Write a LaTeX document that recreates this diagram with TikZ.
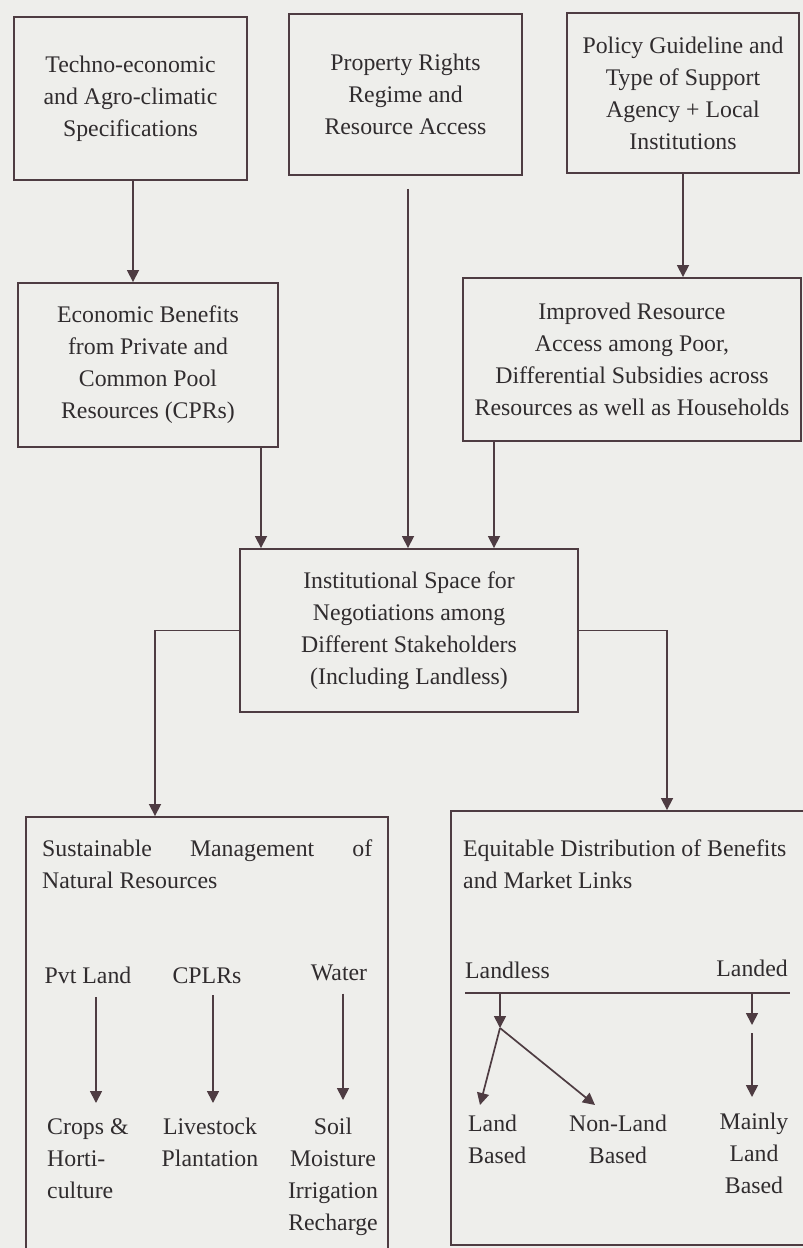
\documentclass[tikz,border=0pt]{standalone}
\usepackage{fontspec}
\setmainfont{Liberation Serif}
\usetikzlibrary{arrows.meta}
\definecolor{bg}{RGB}{238,238,235}
\definecolor{ink}{RGB}{78,60,66}
\definecolor{txt}{RGB}{48,44,46}
\newcommand\dgfont{\fontsize{23.8}{32}\selectfont}
\begin{document}
\begin{tikzpicture}[x=1pt,y=-1pt,
  box/.style={draw=ink, line width=1.9pt, rectangle, inner sep=0pt, align=center, font=\dgfont, text=txt},
  arr/.style={draw=ink, line width=1.7pt, -{Triangle[width=12pt,length=12pt]}},
  lbl/.style={inner sep=0pt, font=\dgfont, text=txt},
  plain/.style={draw=ink, line width=1.7pt}]
\useasboundingbox (0,0) rectangle (803,1248);
\fill[bg] (0,0) rectangle (803,1248);
\clip (0,0) rectangle (803,1248);

% top row
\node[box, minimum width=233pt, minimum height=163pt] (b1) at (130.5,98.5) {Techno-economic\\and Agro-climatic\\Specifications};
\node[box, minimum width=233pt, minimum height=161pt] (b2) at (405.5,94.5) {Property Rights\\Regime and\\Resource Access};
\node[box, minimum width=232pt, minimum height=160pt] (b3) at (683,93) {Policy Guideline and\\Type of Support\\Agency + Local\\Institutions};

% second row
\node[box, minimum width=260pt, minimum height=164pt] (b4) at (148,365) {Economic Benefits\\from Private and\\Common Pool\\Resources (CPRs)};
\node[box, minimum width=338pt, minimum height=163pt] (b6) at (632,359.5) {Improved Resource\\Access among Poor,\\Differential Subsidies across\\Resources as well as Households};

% middle
\node[box, minimum width=338pt, minimum height=163pt] (b7) at (409,630.5) {Institutional Space for\\Negotiations among\\Different Stakeholders\\(Including Landless)};

% bottom boxes
\node[box, minimum width=362pt, minimum height=445pt] (b8) at (207,1039.5) {};
\node[box, minimum width=359pt, minimum height=434pt] (b9) at (630.5,1028) {};

% connectors between boxes
\draw[arr] ([xshift=2.5pt]b1.south) -- ([xshift=2.5pt]b1.south |- b4.north);
\draw[arr, shorten <=13pt] (b2.south -| 408,0) -- (b7.north -| 408,0);
\draw[arr] (b3.south) -- (b3.south |- b6.north);
\draw[arr] (b4.south -| 261,0) -- (b7.north -| 261,0);
\draw[arr] (b6.south -| 494,0) -- (b7.north -| 494,0);
\draw[arr] (b7.west) -| (155,0 |- b8.north);
\draw[arr] (b7.east) -| (667,0 |- b9.north);

% inside box 8
\node[lbl, anchor=base west] (t8) at (42,856) {\makebox[330pt][s]{Sustainable Management of}};
\node[lbl, anchor=base west] (t8b) at (42,888) {Natural Resources};
\node[lbl, anchor=base] (pvt) at (88,983) {Pvt Land};
\node[lbl, anchor=base] (cplr) at (207,983) {CPLRs};
\node[lbl, anchor=base] (water) at (339,980) {Water};
\node[lbl, anchor=north west, align=left] (crops) at (47,1118) {Crops \&\\Horti-\\culture};
\node[lbl, anchor=north, align=center] (live) at (210,1118) {Livestock\\Plantation};
\node[lbl, anchor=north, align=center] (soil) at (333,1118) {Soil\\Moisture\\Irrigation\\Recharge};
\draw[arr, shorten <=14pt, shorten >=15pt] (pvt.south -| 96,0) -- (crops.north -| 96,0);
\draw[arr, shorten <=12pt, shorten >=15pt] (cplr.south -| 213,0) -- (live.north -| 213,0);
\draw[arr, shorten <=13pt, shorten >=18pt] (water.south -| 343,0) -- (soil.north -| 343,0);

% inside box 9
\node[lbl, anchor=base west] (t9) at (463,856) {Equitable Distribution of Benefits};
\node[lbl, anchor=base west] (t9b) at (463,888) {and Market Links};
\node[lbl, anchor=base west] (landless) at (465,978) {Landless};
\node[lbl, anchor=base east] (landed) at (788,976) {Landed};
\coordinate (hl) at (465,993);
\coordinate (hr) at (790,993);
\draw[plain] (hl) -- (hr);
\coordinate (split) at (500,1028);
\coordinate (lbtip) at (480,1105);
\coordinate (nltip) at (595,1105);
\coordinate (ld1) at (752,1025);
\coordinate (ld2) at (752,1033);
\node[lbl, anchor=north west, align=left] (landb) at (468,1115) {Land\\Based};
\node[lbl, anchor=north, align=center] (nonland) at (618,1115) {Non-Land\\Based};
\node[lbl, anchor=north, align=center] (mainly) at (754,1113) {Mainly\\Land\\Based};
\draw[arr] (split |- hl) -- (split);
\draw[arr] (split) -- (lbtip);
\draw[arr] (split) -- (nltip);
\draw[arr] (ld1 |- hl) -- (ld1);
\draw[arr, shorten >=16pt] (ld2) -- (ld2 |- mainly.north);
\end{tikzpicture}
\end{document}
